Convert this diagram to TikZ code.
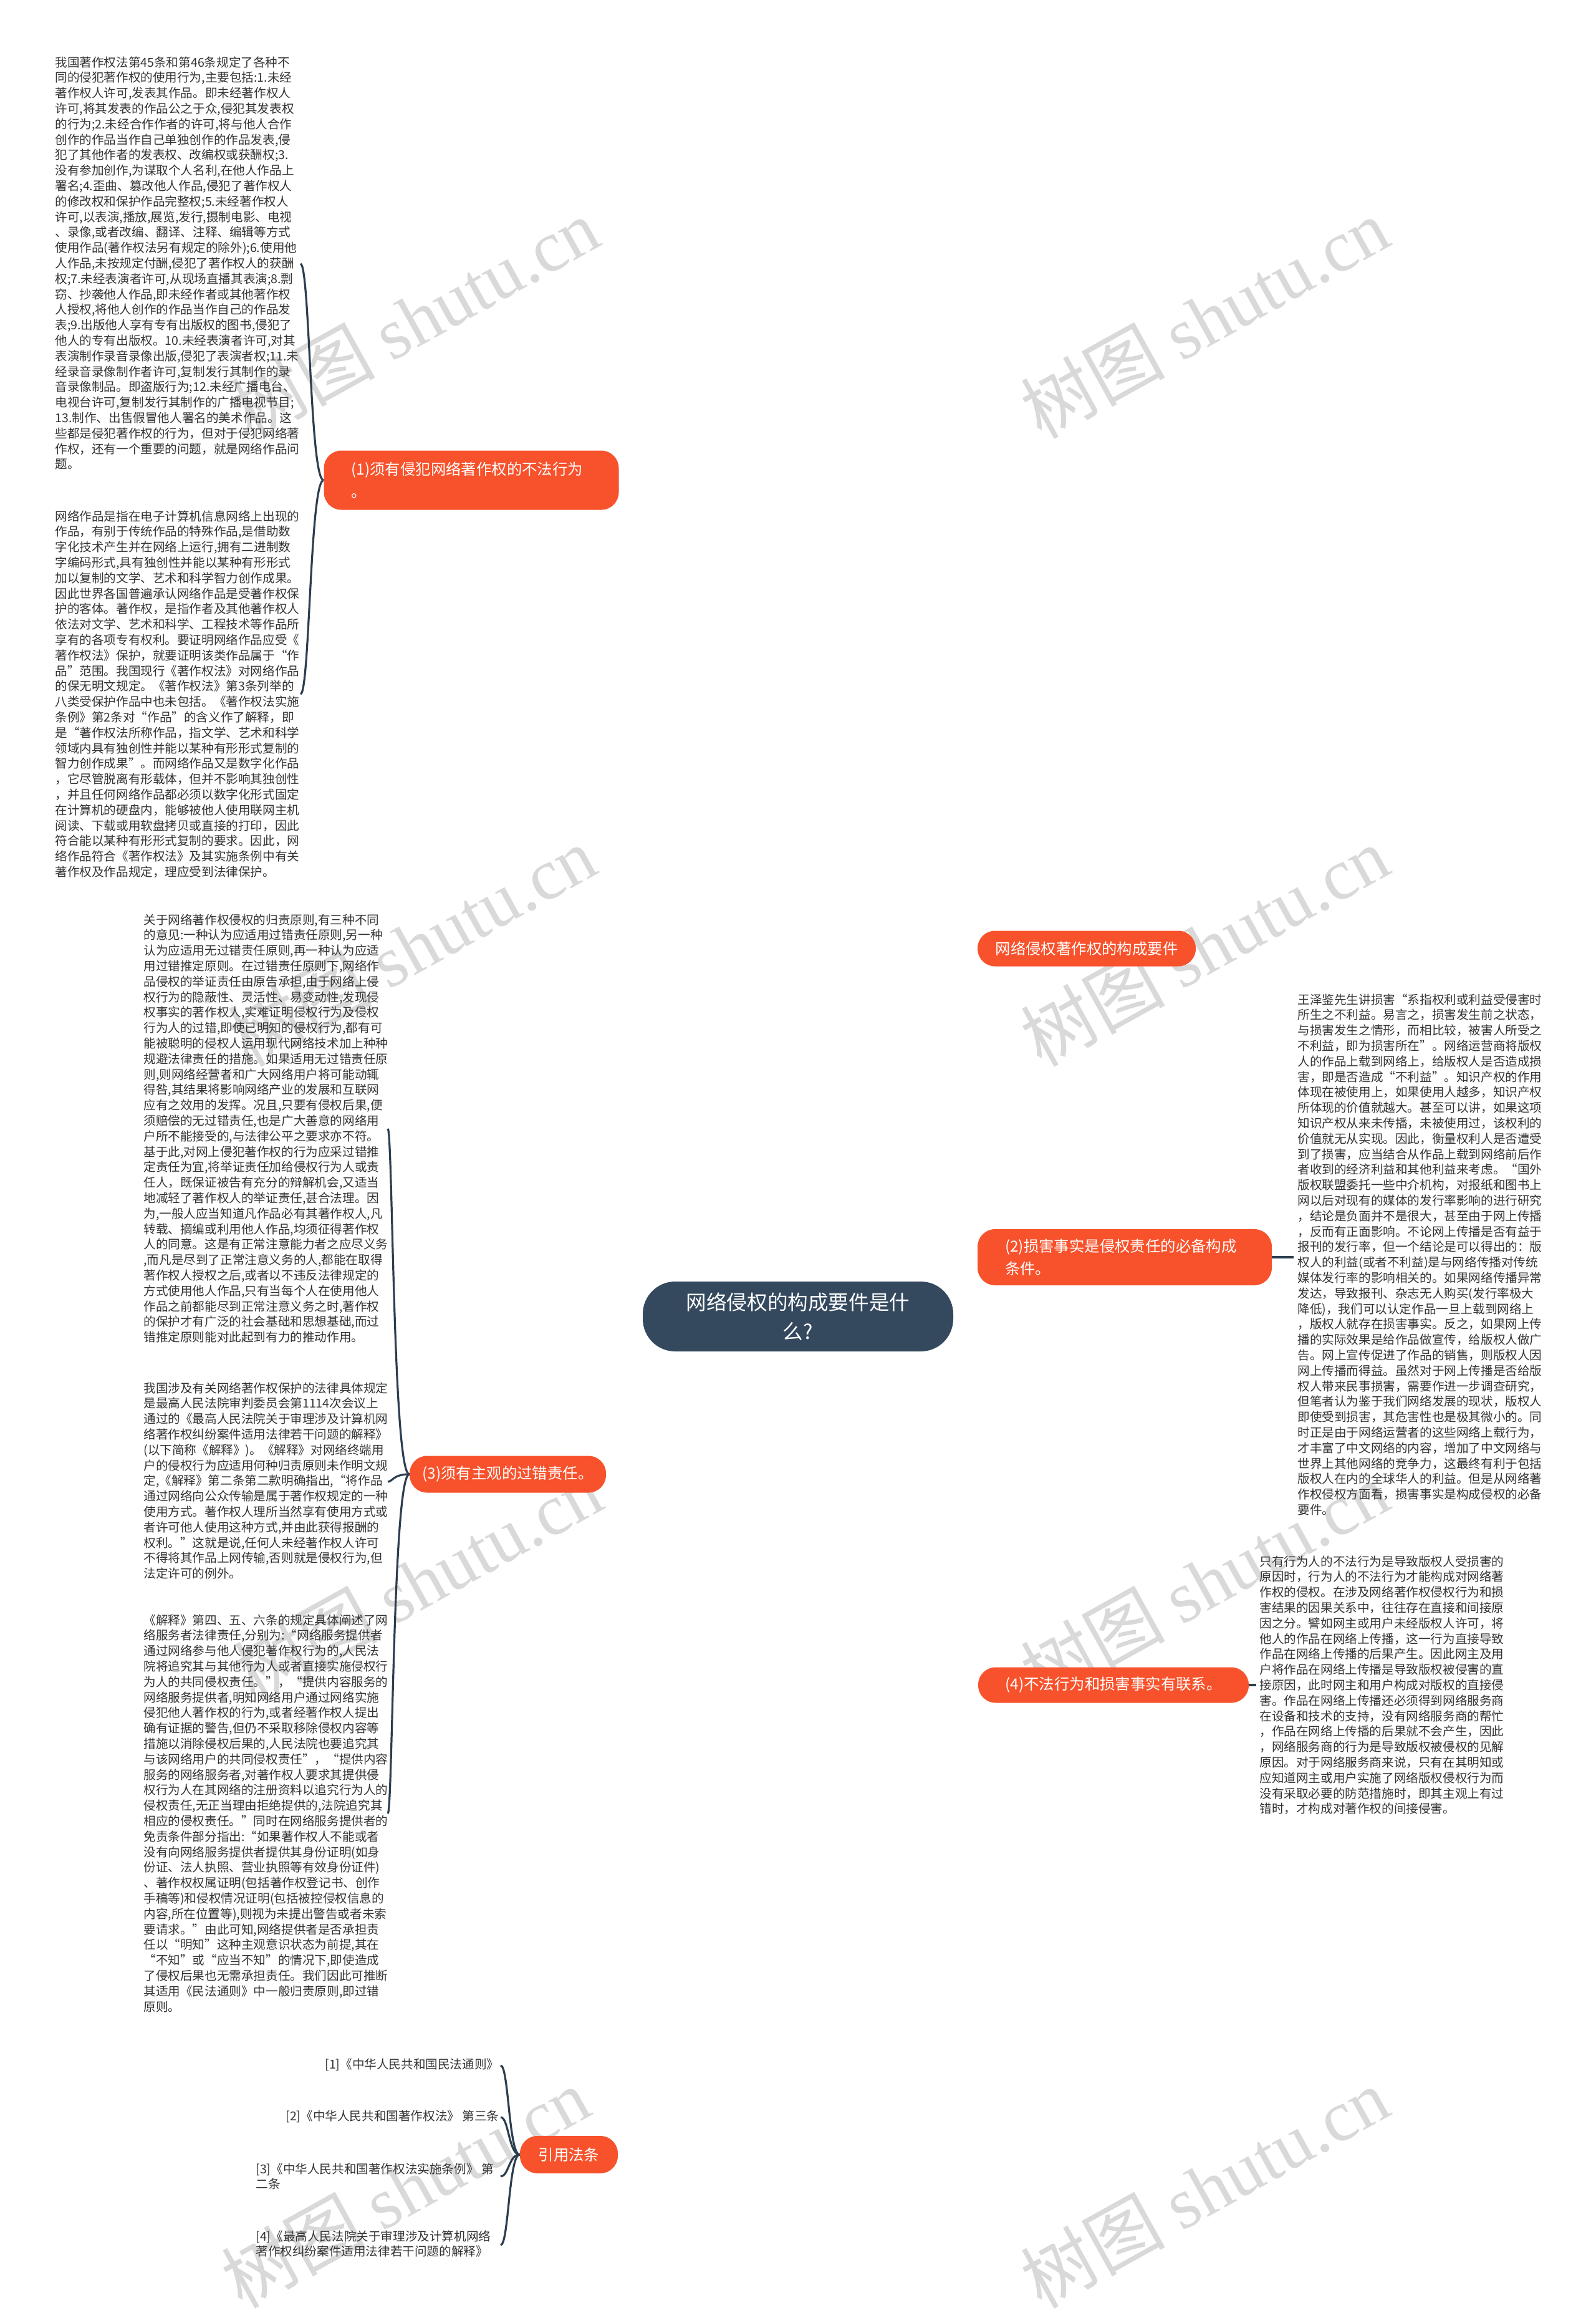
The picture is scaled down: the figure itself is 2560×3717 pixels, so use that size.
\documentclass[tikz,border=0pt]{standalone}
\usepackage{fontspec}
\setmainfont{Noto Sans CJK SC}
\newfontfamily\wmlatin{Liberation Serif}
\usetikzlibrary{backgrounds}
\definecolor{brorange}{HTML}{F7522C}
\definecolor{rootblue}{HTML}{34495E}
\definecolor{linecol}{HTML}{2C3E50}
\definecolor{wmgray}{HTML}{D9D9D9}
\begin{document}
\begin{tikzpicture}[x=0.5pt,y=-0.5pt,
  body/.style={anchor=north west, inner sep=0pt, align=left, text=black!80,
    font=\fontsize{9.8pt}{12.4pt}\selectfont},
  branch/.style={fill=brorange, text=white, rounded corners=14pt, inner xsep=0pt, inner ysep=0pt,
    align=center, font=\fontsize{12.2pt}{18pt}\selectfont},
  branchtwo/.style={branch, align=left, inner xsep=22pt},
  root/.style={fill=rootblue, text=white, rounded corners=26pt, align=center, inner sep=0pt,
    minimum width=249pt, minimum height=56pt, font=\fontsize{16.3pt}{23.5pt}\selectfont},
  conn/.style={draw=linecol, line width=1.6pt},
  wm/.style={text=wmgray, rotate=29, inner sep=0pt, font=\fontsize{58pt}{58pt}\selectfont}
]
\path[use as bounding box, fill=white] (0,0) rectangle (2560,3717);

% watermarks
\foreach \wx/\wy in {665/510, 1932/510, 660/1517, 1932/1517, 670/2536, 1932/2536, 650/3508, 1932/3508}{
  \node[wm] at (\wx,\wy) {树图 {\wmlatin shutu.cn}};
}

% root and branches
\node[root] (root) at (1280,2111) {网络侵权的构成要件是什\\么?};
\node[branchtwo, text width=192.5pt, minimum height=47.5pt] (b1) at (756,770) {(1)须有侵犯网络著作权的不法行为\\。};
\node[branch, minimum width=175pt, minimum height=28.5pt] (b0) at (1743,1521) {网络侵权著作权的构成要件};
\node[branchtwo, text width=192pt, minimum height=45pt] (b2) at (1804,2016) {(2)损害事实是侵权责任的必备构成\\条件。};
\node[branch, minimum width=157.5pt, minimum height=29.5pt] (b3) at (814.5,2364) {(3)须有主观的过错责任。};
\node[branch, minimum width=217pt, minimum height=28.5pt] (b4) at (1786,2702) {(4)不法行为和损害事实有联系。};
\node[branch, minimum width=78.5pt, minimum height=30pt] (b5) at (912.5,3455) {引用法条};

% text blocks
\node[body] (t1) at (88,90) {我国著作权法第45条和第46条规定了各种不\\
同的侵犯著作权的使用行为,主要包括:1.未经\\
著作权人许可,发表其作品。即未经著作权人\\
许可,将其发表的作品公之于众,侵犯其发表权\\
的行为;2.未经合作作者的许可,将与他人合作\\
创作的作品当作自己单独创作的作品发表,侵\\
犯了其他作者的发表权、改编权或获酬权;3.\\
没有参加创作,为谋取个人名利,在他人作品上\\
署名;4.歪曲、篡改他人作品,侵犯了著作权人\\
的修改权和保护作品完整权;5.未经著作权人\\
许可,以表演,播放,展览,发行,摄制电影、电视\\
、录像,或者改编、翻译、注释、编辑等方式\\
使用作品(著作权法另有规定的除外);6.使用他\\
人作品,未按规定付酬,侵犯了著作权人的获酬\\
权;7.未经表演者许可,从现场直播其表演;8.剽\\
窃、抄袭他人作品,即未经作者或其他著作权\\
人授权,将他人创作的作品当作自己的作品发\\
表;9.出版他人享有专有出版权的图书,侵犯了\\
他人的专有出版权。10.未经表演者许可,对其\\
表演制作录音录像出版,侵犯了表演者权;11.未\\
经录音录像制作者许可,复制发行其制作的录\\
音录像制品。即盗版行为;12.未经广播电台、\\
电视台许可,复制发行其制作的广播电视节目;\\
13.制作、出售假冒他人署名的美术作品。这\\
些都是侵犯著作权的行为，但对于侵犯网络著\\
作权，还有一个重要的问题，就是网络作品问\\
题。};

\node[body] (t2) at (88,818) {网络作品是指在电子计算机信息网络上出现的\\
作品，有别于传统作品的特殊作品,是借助数\\
字化技术产生并在网络上运行,拥有二进制数\\
字编码形式,具有独创性并能以某种有形形式\\
加以复制的文学、艺术和科学智力创作成果。\\
因此世界各国普遍承认网络作品是受著作权保\\
护的客体。著作权，是指作者及其他著作权人\\
依法对文学、艺术和科学、工程技术等作品所\\
享有的各项专有权利。要证明网络作品应受《\\
著作权法》保护，就要证明该类作品属于“作\\
品”范围。我国现行《著作权法》对网络作品\\
的保无明文规定。《著作权法》第3条列举的\\
八类受保护作品中也未包括。《著作权法实施\\
条例》第2条对“作品”的含义作了解释，即\\
是“著作权法所称作品，指文学、艺术和科学\\
领域内具有独创性并能以某种有形形式复制的\\
智力创作成果”。而网络作品又是数字化作品\\
，它尽管脱离有形载体，但并不影响其独创性\\
，并且任何网络作品都必须以数字化形式固定\\
在计算机的硬盘内，能够被他人使用联网主机\\
阅读、下载或用软盘拷贝或直接的打印，因此\\
符合能以某种有形形式复制的要求。因此，网\\
络作品符合《著作权法》及其实施条例中有关\\
著作权及作品规定，理应受到法律保护。};

\node[body] (t3) at (230,1465) {关于网络著作权侵权的归责原则,有三种不同\\
的意见:一种认为应适用过错责任原则,另一种\\
认为应适用无过错责任原则,再一种认为应适\\
用过错推定原则。在过错责任原则下,网络作\\
品侵权的举证责任由原告承担,由于网络上侵\\
权行为的隐蔽性、灵活性、易变动性,发现侵\\
权事实的著作权人,实难证明侵权行为及侵权\\
行为人的过错,即使已明知的侵权行为,都有可\\
能被聪明的侵权人运用现代网络技术加上种种\\
规避法律责任的措施。如果适用无过错责任原\\
则,则网络经营者和广大网络用户将可能动辄\\
得咎,其结果将影响网络产业的发展和互联网\\
应有之效用的发挥。况且,只要有侵权后果,便\\
须赔偿的无过错责任,也是广大善意的网络用\\
户所不能接受的,与法律公平之要求亦不符。\\
基于此,对网上侵犯著作权的行为应采过错推\\
定责任为宜,将举证责任加给侵权行为人或责\\
任人，既保证被告有充分的辩解机会,又适当\\
地减轻了著作权人的举证责任,甚合法理。因\\
为,一般人应当知道凡作品必有其著作权人,凡\\
转载、摘编或利用他人作品,均须征得著作权\\
人的同意。这是有正常注意能力者之应尽义务\\
,而凡是尽到了正常注意义务的人,都能在取得\\
著作权人授权之后,或者以不违反法律规定的\\
方式使用他人作品,只有当每个人在使用他人\\
作品之前都能尽到正常注意义务之时,著作权\\
的保护才有广泛的社会基础和思想基础,而过\\
错推定原则能对此起到有力的推动作用。};

\node[body] (t4) at (230,2216) {我国涉及有关网络著作权保护的法律具体规定\\
是最高人民法院审判委员会第1114次会议上\\
通过的《最高人民法院关于审理涉及计算机网\\
络著作权纠纷案件适用法律若干问题的解释》\\
(以下简称《解释》)。《解释》对网络终端用\\
户的侵权行为应适用何种归责原则未作明文规\\
定,《解释》第二条第二款明确指出,“将作品\\
通过网络向公众传输是属于著作权规定的一种\\
使用方式。著作权人理所当然享有使用方式或\\
者许可他人使用这种方式,并由此获得报酬的\\
权利。”这就是说,任何人未经著作权人许可\\
不得将其作品上网传输,否则就是侵权行为,但\\
法定许可的例外。};

\node[body] (t5) at (230,2588) {《解释》第四、五、六条的规定具体阐述了网\\
络服务者法律责任,分别为:“网络服务提供者\\
通过网络参与他人侵犯著作权行为的,人民法\\
院将追究其与其他行为人或者直接实施侵权行\\
为人的共同侵权责任。”，“提供内容服务的\\
网络服务提供者,明知网络用户通过网络实施\\
侵犯他人著作权的行为,或者经著作权人提出\\
确有证据的警告,但仍不采取移除侵权内容等\\
措施以消除侵权后果的,人民法院也要追究其\\
与该网络用户的共同侵权责任”，“提供内容\\
服务的网络服务者,对著作权人要求其提供侵\\
权行为人在其网络的注册资料以追究行为人的\\
侵权责任,无正当理由拒绝提供的,法院追究其\\
相应的侵权责任。”同时在网络服务提供者的\\
免责条件部分指出:“如果著作权人不能或者\\
没有向网络服务提供者提供其身份证明(如身\\
份证、法人执照、营业执照等有效身份证件)\\
、著作权权属证明(包括著作权登记书、创作\\
手稿等)和侵权情况证明(包括被控侵权信息的\\
内容,所在位置等),则视为未提出警告或者未索\\
要请求。”由此可知,网络提供者是否承担责\\
任以“明知”这种主观意识状态为前提,其在\\
“不知”或“应当不知”的情况下,即使造成\\
了侵权后果也无需承担责任。我们因此可推断\\
其适用《民法通则》中一般归责原则,即过错\\
原则。};

\node[body] (r1) at (2081,1593) {王泽鉴先生讲损害“系指权利或利益受侵害时\\
所生之不利益。易言之，损害发生前之状态，\\
与损害发生之情形，而相比较，被害人所受之\\
不利益，即为损害所在”。网络运营商将版权\\
人的作品上载到网络上，给版权人是否造成损\\
害，即是否造成“不利益”。知识产权的作用\\
体现在被使用上，如果使用人越多，知识产权\\
所体现的价值就越大。甚至可以讲，如果这项\\
知识产权从来未传播，未被使用过，该权利的\\
价值就无从实现。因此，衡量权利人是否遭受\\
到了损害，应当结合从作品上载到网络前后作\\
者收到的经济利益和其他利益来考虑。“国外\\
版权联盟委托一些中介机构，对报纸和图书上\\
网以后对现有的媒体的发行率影响的进行研究\\
，结论是负面并不是很大，甚至由于网上传播\\
，反而有正面影响。不论网上传播是否有益于\\
报刊的发行率，但一个结论是可以得出的：版\\
权人的利益(或者不利益)是与网络传播对传统\\
媒体发行率的影响相关的。如果网络传播异常\\
发达，导致报刊、杂志无人购买(发行率极大\\
降低)，我们可以认定作品一旦上载到网络上\\
，版权人就存在损害事实。反之，如果网上传\\
播的实际效果是给作品做宣传，给版权人做广\\
告。网上宣传促进了作品的销售，则版权人因\\
网上传播而得益。虽然对于网上传播是否给版\\
权人带来民事损害，需要作进一步调查研究，\\
但笔者认为鉴于我们网络发展的现状，版权人\\
即使受到损害，其危害性也是极其微小的。同\\
时正是由于网络运营者的这些网络上载行为，\\
才丰富了中文网络的内容，增加了中文网络与\\
世界上其他网络的竞争力，这最终有利于包括\\
版权人在内的全球华人的利益。但是从网络著\\
作权侵权方面看，损害事实是构成侵权的必备\\
要件。};

\node[body] (r2) at (2020,2494) {只有行为人的不法行为是导致版权人受损害的\\
原因时，行为人的不法行为才能构成对网络著\\
作权的侵权。在涉及网络著作权侵权行为和损\\
害结果的因果关系中，往往存在直接和间接原\\
因之分。譬如网主或用户未经版权人许可，将\\
他人的作品在网络上传播，这一行为直接导致\\
作品在网络上传播的后果产生。因此网主及用\\
户将作品在网络上传播是导致版权被侵害的直\\
接原因，此时网主和用户构成对版权的直接侵\\
害。作品在网络上传播还必须得到网络服务商\\
在设备和技术的支持，没有网络服务商的帮忙\\
，作品在网络上传播的后果就不会产生，因此\\
，网络服务商的行为是导致版权被侵权的见解\\
原因。对于网络服务商来说，只有在其明知或\\
应知道网主或用户实施了网络版权侵权行为而\\
没有采取必要的防范措施时，即其主观上有过\\
错时，才构成对著作权的间接侵害。};

% references
\node[body] (f1) at (521,3300) {[1]《中华人民共和国民法通则》};
\node[body] (f2) at (458,3383) {[2]《中华人民共和国著作权法》 第三条};
\node[body] (f3) at (410,3468) {[3]《中华人民共和国著作权法实施条例》 第\\二条};
\node[body] (f4) at (410,3576) {[4]《最高人民法院关于审理涉及计算机网络\\著作权纠纷案件适用法律若干问题的解释》};

% connector end points
\coordinate (t1e) at (482,423);
\coordinate (t2e) at (482,1113);
\coordinate (t3e) at (622,1810);
\coordinate (t4e) at (622,2376);
\coordinate (t5e) at (622,2908);
\coordinate (r1w) at (2075,2016);
\coordinate (r2w) at (2015,2702);
\coordinate (f1e) at (803,3312);
\coordinate (f2e) at (803,3395);
\coordinate (f3e) at (803,3490);
\coordinate (f4e) at (803,3600);

\begin{pgfonlayer}{background}
\draw[conn] (root.center) .. controls (1280,1100) and (1150,770) .. (b1.east);
\draw[conn] (root.center) .. controls (1280,1700) and (1400,1521) .. (b0.west);
\draw[conn] (root.center) .. controls (1330,2030) and (1430,2016) .. (b2.west);
\draw[conn] (root.center) .. controls (1250,2300) and (1080,2364) .. (b3.east);
\draw[conn] (root.center) .. controls (1290,2550) and (1400,2702) .. (b4.west);
\draw[conn] (root.center) .. controls (1280,3000) and (1150,3455) .. (b5.east);
\end{pgfonlayer}

\draw[conn] (b1.west) .. controls (497,770) and (497,423) .. (t1e);
\draw[conn] (b1.west) .. controls (497,770) and (497,1113) .. (t2e);
\draw[conn] (b3.west) .. controls (630,2364) and (630,1810) .. (t3e);
\draw[conn] (b3.west) .. controls (630,2364) and (630,2376) .. (t4e);
\draw[conn] (b3.west) .. controls (630,2364) and (630,2908) .. (t5e);
\draw[conn] (b2.east) -- (r1w);
\draw[conn] (b4.east) -- (r2w);
\draw[conn] (b5.west) .. controls (816,3455) and (816,3312) .. (f1e);
\draw[conn] (b5.west) .. controls (816,3455) and (816,3395) .. (f2e);
\draw[conn] (b5.west) .. controls (816,3455) and (816,3490) .. (f3e);
\draw[conn] (b5.west) .. controls (816,3455) and (816,3600) .. (f4e);
\end{tikzpicture}
\end{document}
